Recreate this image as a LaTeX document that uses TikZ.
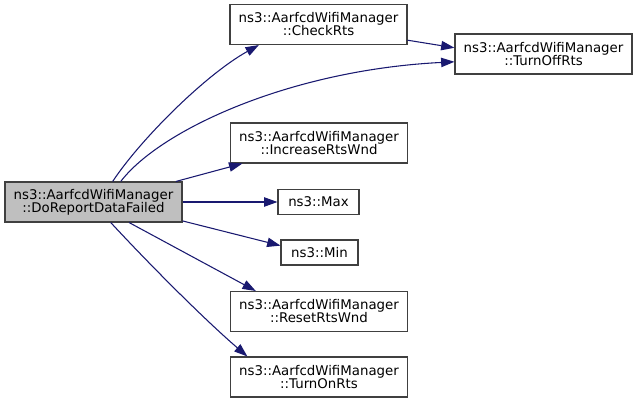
\documentclass[tikz,border=0pt]{standalone}
\usepackage{fontspec}
\setmainfont{DejaVu Sans}
\usetikzlibrary{arrows.meta}

\begin{document}
\begin{tikzpicture}[x=0.75pt,y=-0.75pt,
    fn/.style={draw=black!75,line width=0.8pt,fill=white,align=center,inner sep=0pt,
      minimum width=132.75pt,minimum height=30pt,font=\fontsize{10pt}{9.75pt}\selectfont},
    small/.style={fn,minimum height=18.75pt},
    call/.style={draw={rgb,255:red,25;green,25;blue,112},line width=0.8pt,
      -{Triangle[length=10pt,width=7pt]}}]
  \useasboundingbox (0,0) rectangle (639,403);
  % caller
  \node[fn,fill=black!25] (dr) at (93.5,202) {ns3::AarfcdWifiManager\\::DoReportDataFailed};
  % callees
  \node[fn] (chk) at (318.5,24.5) {ns3::AarfcdWifiManager\\::CheckRts};
  \node[fn] (toff) at (543.5,54) {ns3::AarfcdWifiManager\\::TurnOffRts};
  \node[fn] (inc) at (319,143) {ns3::AarfcdWifiManager\\::IncreaseRtsWnd};
  \node[small,minimum width=60.75pt] (max) at (318.5,202) {ns3::Max};
  \node[small,minimum width=57.75pt] (min) at (319.5,252.5) {ns3::Min};
  \node[fn] (rst) at (319,311.5) {ns3::AarfcdWifiManager\\::ResetRtsWnd};
  \node[fn] (ton) at (319,377) {ns3::AarfcdWifiManager\\::TurnOnRts};
  % edges
  \draw[call] (dr.47) .. controls (140,140) and (205,75) .. (chk.199);
  \draw[call] (dr.37) .. controls (160,130) and (290,70) .. (toff.185);
  \draw[call] (chk.-10) -- (toff.176);
  \draw[call] (dr.14) -- (inc.195);
  \draw[call] (dr.east) -- (max.west);
  \draw[call] (dr.-12) -- (min.170);
  \draw[call] (dr.-30) -- (rst.162);
  \draw[call] (dr.-50) .. controls (150,265) and (205,320) .. (ton.164);
\end{tikzpicture}
\end{document}
